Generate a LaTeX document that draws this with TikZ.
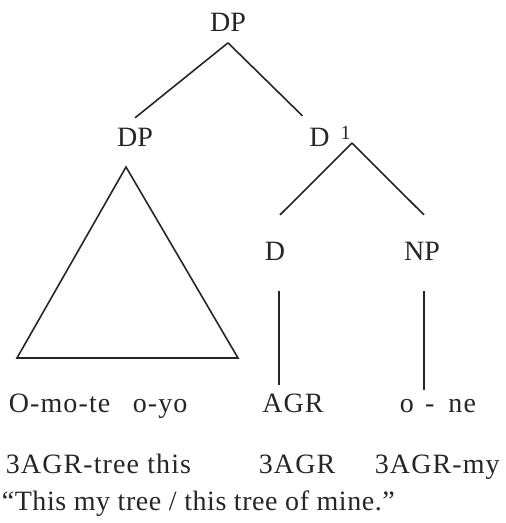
\documentclass[tikz,border=0pt]{standalone}
\usepackage{fontspec}
\setmainfont{Liberation Serif}
\newfontfamily\glossfont[LetterSpace=4]{Liberation Serif}
\newfontfamily\transfont[LetterSpace=2]{Liberation Serif}
\usepackage{tikz}
\usetikzlibrary{arrows}

\begin{document}
\begin{tikzpicture}[x=0.5pt,y=-0.5pt,line width=0.8pt,draw=black!85,
                    cat node/.style={inner sep=5pt,anchor=base,text=black!85,font=\fontsize{14}{17}\selectfont},
                    word node/.style={inner sep=0pt,anchor=base west,text=black!85,font=\fontsize{14}{17}\glossfont}]
  \useasboundingbox (0,0) rectangle (505,523);
  \node[cat node] (dp) at (228,32) {DP};
  \node[cat node] (dp1) at (135,147) {DP};
  \node[cat node] (dbar) at (330,147) {D\hspace{0.4em}\raisebox{0.55ex}{\fontsize{10}{12}\selectfont 1}};
  \node[cat node] (d) at (275,260) {D};
  \node[cat node] (np) at (422,260) {NP};
  \coordinate (split) at (352,143);

  % triangle over the possessed DP
  \coordinate (tritop) at (126,167);
  \coordinate (trileft) at (17,358);
  \coordinate (triright) at (238,358);
  \draw (tritop) -- (trileft) -- (triright) -- cycle;

  \node[word node] (dpwords) at (8,412) {O-mo-te\hspace{0.8em}o-yo};
  \node[cat node,inner sep=0pt,font=\fontsize{14}{17}\glossfont] (agr) at (293,412) {AGR};
  \node[cat node,inner sep=0pt,font=\fontsize{14}{17}\glossfont] (one) at (438,412) {o\hspace{0.4em}-\hspace{0.5em}ne};

  \path (dp.south) edge (dp1.north)
        (dp.south) edge ([xshift=2pt]dbar.north west)
        (split) edge ([shift={(5,-16)}]d.north)
        (split) edge ([shift={(2,-16)}]np.north)
        ([xshift=2pt]d.south) edge[shorten <=10pt,shorten >=4pt] ([xshift=2pt]d.south |- agr.north)
        ([xshift=1pt]np.south) edge[shorten <=10pt,shorten >=4pt] ([xshift=1pt]np.south |- one.north);

  % gloss and translation
  \node[word node] (gloss1) at (5,473) {3AGR-tree this};
  \node[word node] (gloss2) at (258,473) {3AGR};
  \node[word node] (gloss3) at (374,473) {3AGR-my};
  \node[word node,font=\fontsize{14}{17}\transfont] (trans) at (1,510) {“This my tree / this tree of mine.”};
\end{tikzpicture}
\end{document}
